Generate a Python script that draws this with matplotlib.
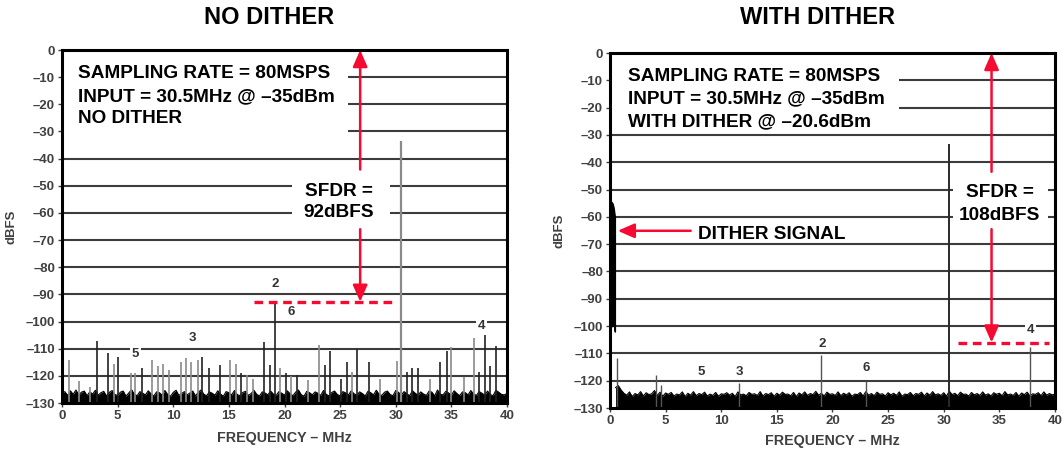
import numpy as np
import matplotlib
matplotlib.use('Agg')
import matplotlib.pyplot as plt
from matplotlib.patches import Rectangle

plt.rcParams['font.family'] = ['Liberation Sans', 'DejaVu Sans']
plt.rcParams['font.weight'] = 'bold'

# ---------------- data ----------------
titles = ["NO DITHER", "WITH DITHER"]
xticks = [0, 5, 10, 15, 20, 25, 30, 35, 40]
yticks = [0, -10, -20, -30, -40, -50, -60, -70, -80, -90, -100, -110, -120, -130]

fund_freq = 30.5
fund_level_L = -33.5
fund_level_R = -33.5

# left (no dither) spurs, darker ones and lighter ones
spur_dark_freq_L = [3.15, 4.1, 5.0, 7.2, 12.6, 13.2, 14.2, 16.1, 18.2, 18.7, 19.1, 20.1, 21.1,
                    23.6, 24.1, 25.1, 25.6, 26.5, 27.6, 31.0, 31.5, 32.0, 34.0, 34.6, 37.5,
                    38.0, 38.5, 39.0]
spur_dark_level_L = [-107, -111.6, -113, -117, -113, -117, -116, -119, -107.5, -116, -92.7, -119,
                     -119.5, -116, -111, -121, -115, -110, -115, -118.5, -117, -117, -115,
                     -111, -118.5, -105, -116.5, -109]
spur_light_freq_L = [0.6, 1.5, 2.5, 4.65, 6.2, 6.6, 8.1, 8.6, 9.1, 9.6, 10.65, 11.1, 11.6, 12.2,
                     15.1, 15.6, 16.6, 17.2, 19.6, 20.6, 22.1, 23.1, 26.1, 28.6, 30.1, 33.1,
                     35.0, 36.1, 37.0]
spur_light_level_L = [-114, -122, -124, -115.5, -119, -119, -114, -116.5, -115.5, -118, -115,
                      -113.5, -115, -114, -114, -115.5, -119.5, -121, -117, -120, -121.5,
                      -108.5, -118.5, -121, -114.5, -121, -109.5, -120.5, -106]

# right (with dither) spurs
spur_freq_R = [0.6, 4.1, 4.6, 11.6, 19.0, 23.0, 37.8]
spur_level_R = [-111.6, -118, -121.5, -120.8, -110.6, -120, -107.6]

# dither signal band near DC
dither_freq = [0.02, 0.12, 0.22, 0.32, 0.44]
dither_top = [-57, -54.5, -55, -56.5, -60]
dither_bottom = [-99, -100, -100, -99, -102]

# noise floor (0.25 MHz bins)
noise_L = [
    -126.5, -125.8, -127.2, -125.5, -126.8, -125.2, -127.0, -126.0, -125.6, -127.3,
    -125.9, -126.7, -125.3, -127.1, -126.2, -125.7, -127.4, -126.1, -125.4, -126.9,
    -127.2, -126.0, -125.6, -127.5, -126.3, -125.1, -126.8, -127.3, -125.8, -126.4,
    -127.0, -125.5, -126.6, -127.4, -125.9, -126.2, -127.1, -125.4, -126.9, -127.5,
    -126.1, -125.3, -127.2, -126.5, -125.8, -127.0, -126.3, -125.6, -127.4, -126.0,
    -125.2, -126.8, -127.3, -125.9, -126.4, -127.1, -125.5, -126.7, -127.5, -125.8,
    -126.2, -127.0, -125.4, -126.9, -127.3, -126.1, -125.7, -127.2, -126.5, -125.3,
    -126.8, -127.4, -125.9, -126.3, -127.0, -125.6, -126.7, -127.2, -125.8, -126.4,
    -127.1, -125.5, -126.6, -127.3, -126.0, -125.2, -126.9, -127.5, -125.7, -126.2,
    -127.0, -125.9, -126.4, -127.2, -125.4, -126.8, -127.4, -126.1, -125.6, -126.9,
    -127.3, -125.8, -126.3, -127.0, -125.5, -126.6, -127.1, -125.9, -126.5, -127.4,
    -125.7, -126.2, -127.0, -125.3, -126.8, -127.2, -126.0, -125.6, -126.9, -127.3,
    -125.4, -126.1, -127.0, -125.8, -126.6, -127.3, -125.5, -126.4, -127.1, -125.9,
    -126.7, -127.2, -125.6, -126.0, -127.4, -125.2, -126.8, -127.0, -125.7, -126.3,
    -127.1, -125.5, -126.5, -127.3, -125.9, -126.2, -127.0, -125.4, -126.7, -127.2,
    -125.8, -126.4, -127.1, -125.6, -126.9, -127.3, -125.3, -126.0, -126.8, -127.0,
    -126.5]
noise_R = [
    -122.5, -121.8, -123.4, -124.6, -125.3, -124.1, -125.8, -124.7, -125.2, -124.0,
    -125.6, -124.4, -125.1, -124.8, -123.6, -125.4, -124.2, -125.7, -124.5, -125.0,
    -124.3, -125.6, -124.9, -125.2, -124.1, -125.8, -124.6, -125.3, -124.0, -125.5,
    -124.7, -125.1, -124.2, -125.6, -124.9, -125.4, -124.3, -125.7, -124.8, -125.0,
    -124.4, -125.3, -124.6, -125.8, -124.1, -125.2, -124.9, -125.5, -124.3, -125.0,
    -124.8, -125.4, -124.0, -125.6, -124.7, -125.1, -124.4, -125.7, -124.6, -125.3,
    -124.2, -125.0, -124.9, -125.5, -124.3, -125.8, -124.5, -125.2, -124.1, -125.4,
    -124.7, -125.1, -123.9, -125.3, -124.6, -125.6, -124.2, -125.0, -124.8, -125.4,
    -124.1, -125.5, -124.6, -125.2, -124.4, -125.7, -124.9, -125.1, -124.3, -125.6,
    -124.0, -125.3, -124.7, -125.5, -124.2, -125.0, -124.8, -125.6, -124.4, -125.2,
    -124.6, -125.4, -124.1, -125.7, -124.9, -125.1, -124.3, -125.5, -124.7, -125.0,
    -124.2, -125.6, -124.5, -125.3, -124.0, -125.2, -124.8, -125.4, -124.4, -125.7,
    -123.8, -125.1, -124.6, -125.5, -124.2, -125.0, -124.9, -125.6, -124.3, -125.2,
    -124.7, -125.4, -124.1, -125.3, -124.8, -125.6, -124.4, -125.0, -124.6, -125.5,
    -124.0, -125.2, -124.9, -125.4, -124.3, -125.7, -124.5, -125.1, -124.2, -125.6,
    -124.8, -125.0, -124.4, -125.5, -124.1, -125.3, -124.7, -125.2,
    -124.9]
noise_freq_L = np.arange(len(noise_L)) * 0.25
noise_freq_R = 0.5 + np.arange(len(noise_R)) * 0.25

# harmonic labels
harm_labels = ["2", "3", "4", "5", "6"]
harm_pos_L = [(19.2, -86), (11.7, -106.2), (37.7, -101.7), (6.6, -111.8), (20.6, -96.4)]
harm_pos_R = [(19.1, -106.7), (11.6, -116.7), (37.8, -101.5), (8.2, -116.7), (23.0, -115.3)]

info_L = ["SAMPLING RATE = 80MSPS", "INPUT = 30.5MHz @ \u201335dBm", "NO DITHER"]
info_R = ["SAMPLING RATE = 80MSPS", "INPUT = 30.5MHz @ \u201335dBm", "WITH DITHER @ \u201320.6dBm"]
sfdr_L = ["SFDR =", "92dBFS"]
sfdr_R = ["SFDR =", "108dBFS"]
sfdr_level_L = -92.7
sfdr_level_R = -106.3

RED = '#f50a32'
GRID = '#3c3c3c'
TICKC = '#404040'

fig = plt.figure(figsize=(10.64, 4.5), dpi=100)
axL = fig.add_axes([0.0583, 0.1044, 0.4182, 0.7844])
axR = fig.add_axes([0.5733, 0.0933, 0.4182, 0.7889])


def base(ax):
    ax.set_xlim(0, 40)
    ax.set_ylim(-130, 0)
    ax.set_xticks(xticks)
    ax.set_yticks(yticks)
    ax.set_yticklabels([str(v) if v == 0 else "\u2013" + str(-v) for v in yticks])
    for y in yticks[1:-1]:
        ax.axhline(y, color=GRID, lw=1.5, zorder=1)
    for s in ax.spines.values():
        s.set_linewidth(2.2)
        s.set_color('black')
        s.set_zorder(10)
    ax.tick_params(axis='both', labelsize=9.5, colors=TICKC, length=3, width=1, pad=2)
    for lab in ax.get_xticklabels() + ax.get_yticklabels():
        lab.set_fontweight('bold')
    ax.set_xlabel("FREQUENCY \u2013 MHz", fontsize=10.3, color=TICKC, fontweight='bold')
    ax.set_ylabel("dBFS", fontsize=9.5, color=TICKC, fontweight='bold')


base(axL)
base(axR)
axL.xaxis.set_label_coords(0.5, -0.08)
axR.xaxis.set_label_coords(0.5, -0.074)
axL.yaxis.set_label_coords(-0.1, 0.5)
axR.yaxis.set_label_coords(-0.1, 0.5)


def box(ax, x0, x1, y0, y1):
    ax.add_patch(Rectangle((x0, y0), x1 - x0, y1 - y0, facecolor='white',
                           edgecolor='none', zorder=2))


def arrow(ax, tail, tip):
    ax.annotate('', xy=tip, xytext=tail,
                arrowprops=dict(arrowstyle='-|>,head_length=0.5,head_width=0.22',
                                color=RED, lw=1.8, mutation_scale=20,
                                shrinkA=0, shrinkB=0), zorder=6)


# ---------- LEFT ----------
ax = axL
box(ax, 0.2, 25.7, -35, -0.3)
for txt, y in zip(info_L, [-10.4, -18.7, -27.0]):
    ax.text(1.45, y, txt, fontsize=13.7, fontweight='bold', va='baseline', ha='left', zorder=7)
box(ax, 20.7, 29.5, -66, -45)
for txt, y in zip(sfdr_L, [-53.7, -61.6]):
    ax.text(24.85, y, txt, fontsize=13.7, fontweight='bold', va='baseline', ha='center', zorder=7)
ax.fill_between(noise_freq_L, -130, noise_L, color='black', lw=0, zorder=3)
ax.plot(noise_freq_L, noise_L, color='black', lw=0.8, zorder=3)
ax.vlines(spur_light_freq_L, -130, spur_light_level_L, color='#8a8a8a', lw=1.2, zorder=3)
ax.vlines(spur_dark_freq_L, -130, spur_dark_level_L, color='#222222', lw=1.2, zorder=3)
ax.vlines([fund_freq], -130, [fund_level_L], color='#8a8a8a', lw=1.6, zorder=3)
for lab, (x, y) in zip(harm_labels, harm_pos_L):
    bb = dict(facecolor='white', edgecolor='none', pad=1.5) if lab in ("4", "5") else None
    ax.text(x, y, lab, fontsize=9.5, fontweight='bold', color='#333333', ha='center',
            va='center', bbox=bb, zorder=5)
ax.plot([17.3, 29.7], [sfdr_level_L, sfdr_level_L], color=RED, lw=2.4,
        linestyle=(0, (2.6, 1.7)), zorder=5)
arrow(ax, (26.8, -44), (26.8, 0))
arrow(ax, (26.8, -66), (26.8, sfdr_level_L))

# ---------- RIGHT ----------
ax = axR
box(ax, 0.2, 26.0, -29.4, -0.3)
for txt, y in zip(info_R, [-10.1, -18.4, -27.0]):
    ax.text(1.65, y, txt, fontsize=13.7, fontweight='bold', va='baseline', ha='left', zorder=7)
box(ax, 30.85, 39.4, -64.5, -43)
for txt, y in zip(sfdr_R, [-52.6, -61.2]):
    ax.text(35.05, y, txt, fontsize=13.7, fontweight='bold', va='baseline', ha='center', zorder=7)
ax.fill_between(noise_freq_R, -130, noise_R, color='black', lw=0, zorder=3)
ax.plot(noise_freq_R, noise_R, color='black', lw=0.8, zorder=3)
ax.fill_between(dither_freq, dither_bottom, dither_top, color='black', lw=1, zorder=3)
ax.vlines(spur_freq_R, -130, spur_level_R, color='#555555', lw=1.0, zorder=3)
ax.vlines([fund_freq], -130, [fund_level_R], color='#2a2a2a', lw=1.4, zorder=3)
for lab, (x, y) in zip(harm_labels, harm_pos_R):
    bb = dict(facecolor='white', edgecolor='none', pad=1.5) if lab == "4" else None
    ax.text(x, y, lab, fontsize=9.5, fontweight='bold', color='#333333', ha='center',
            va='center', bbox=bb, zorder=5)
ax.plot([31.3, 39.5], [sfdr_level_R, sfdr_level_R], color=RED, lw=2.4,
        linestyle=(0, (2.6, 1.7)), zorder=5)
arrow(ax, (34.3, -43.5), (34.3, 0))
arrow(ax, (34.3, -64.5), (34.3, sfdr_level_R + 0.3))
ax.text(7.9, -68.2, "DITHER SIGNAL", fontsize=13.7, fontweight='bold', va='baseline',
        ha='left', zorder=7)
arrow(ax, (7.25, -65.1), (0.7, -65.1))

fig.text(269 / 1064, 1 - 18 / 450, titles[0], fontsize=17, fontweight='bold', ha='center', va='center')
fig.text(818 / 1064, 1 - 18 / 450, titles[1], fontsize=17, fontweight='bold', ha='center', va='center')

fig.savefig('out.png', dpi=100, facecolor='white')
